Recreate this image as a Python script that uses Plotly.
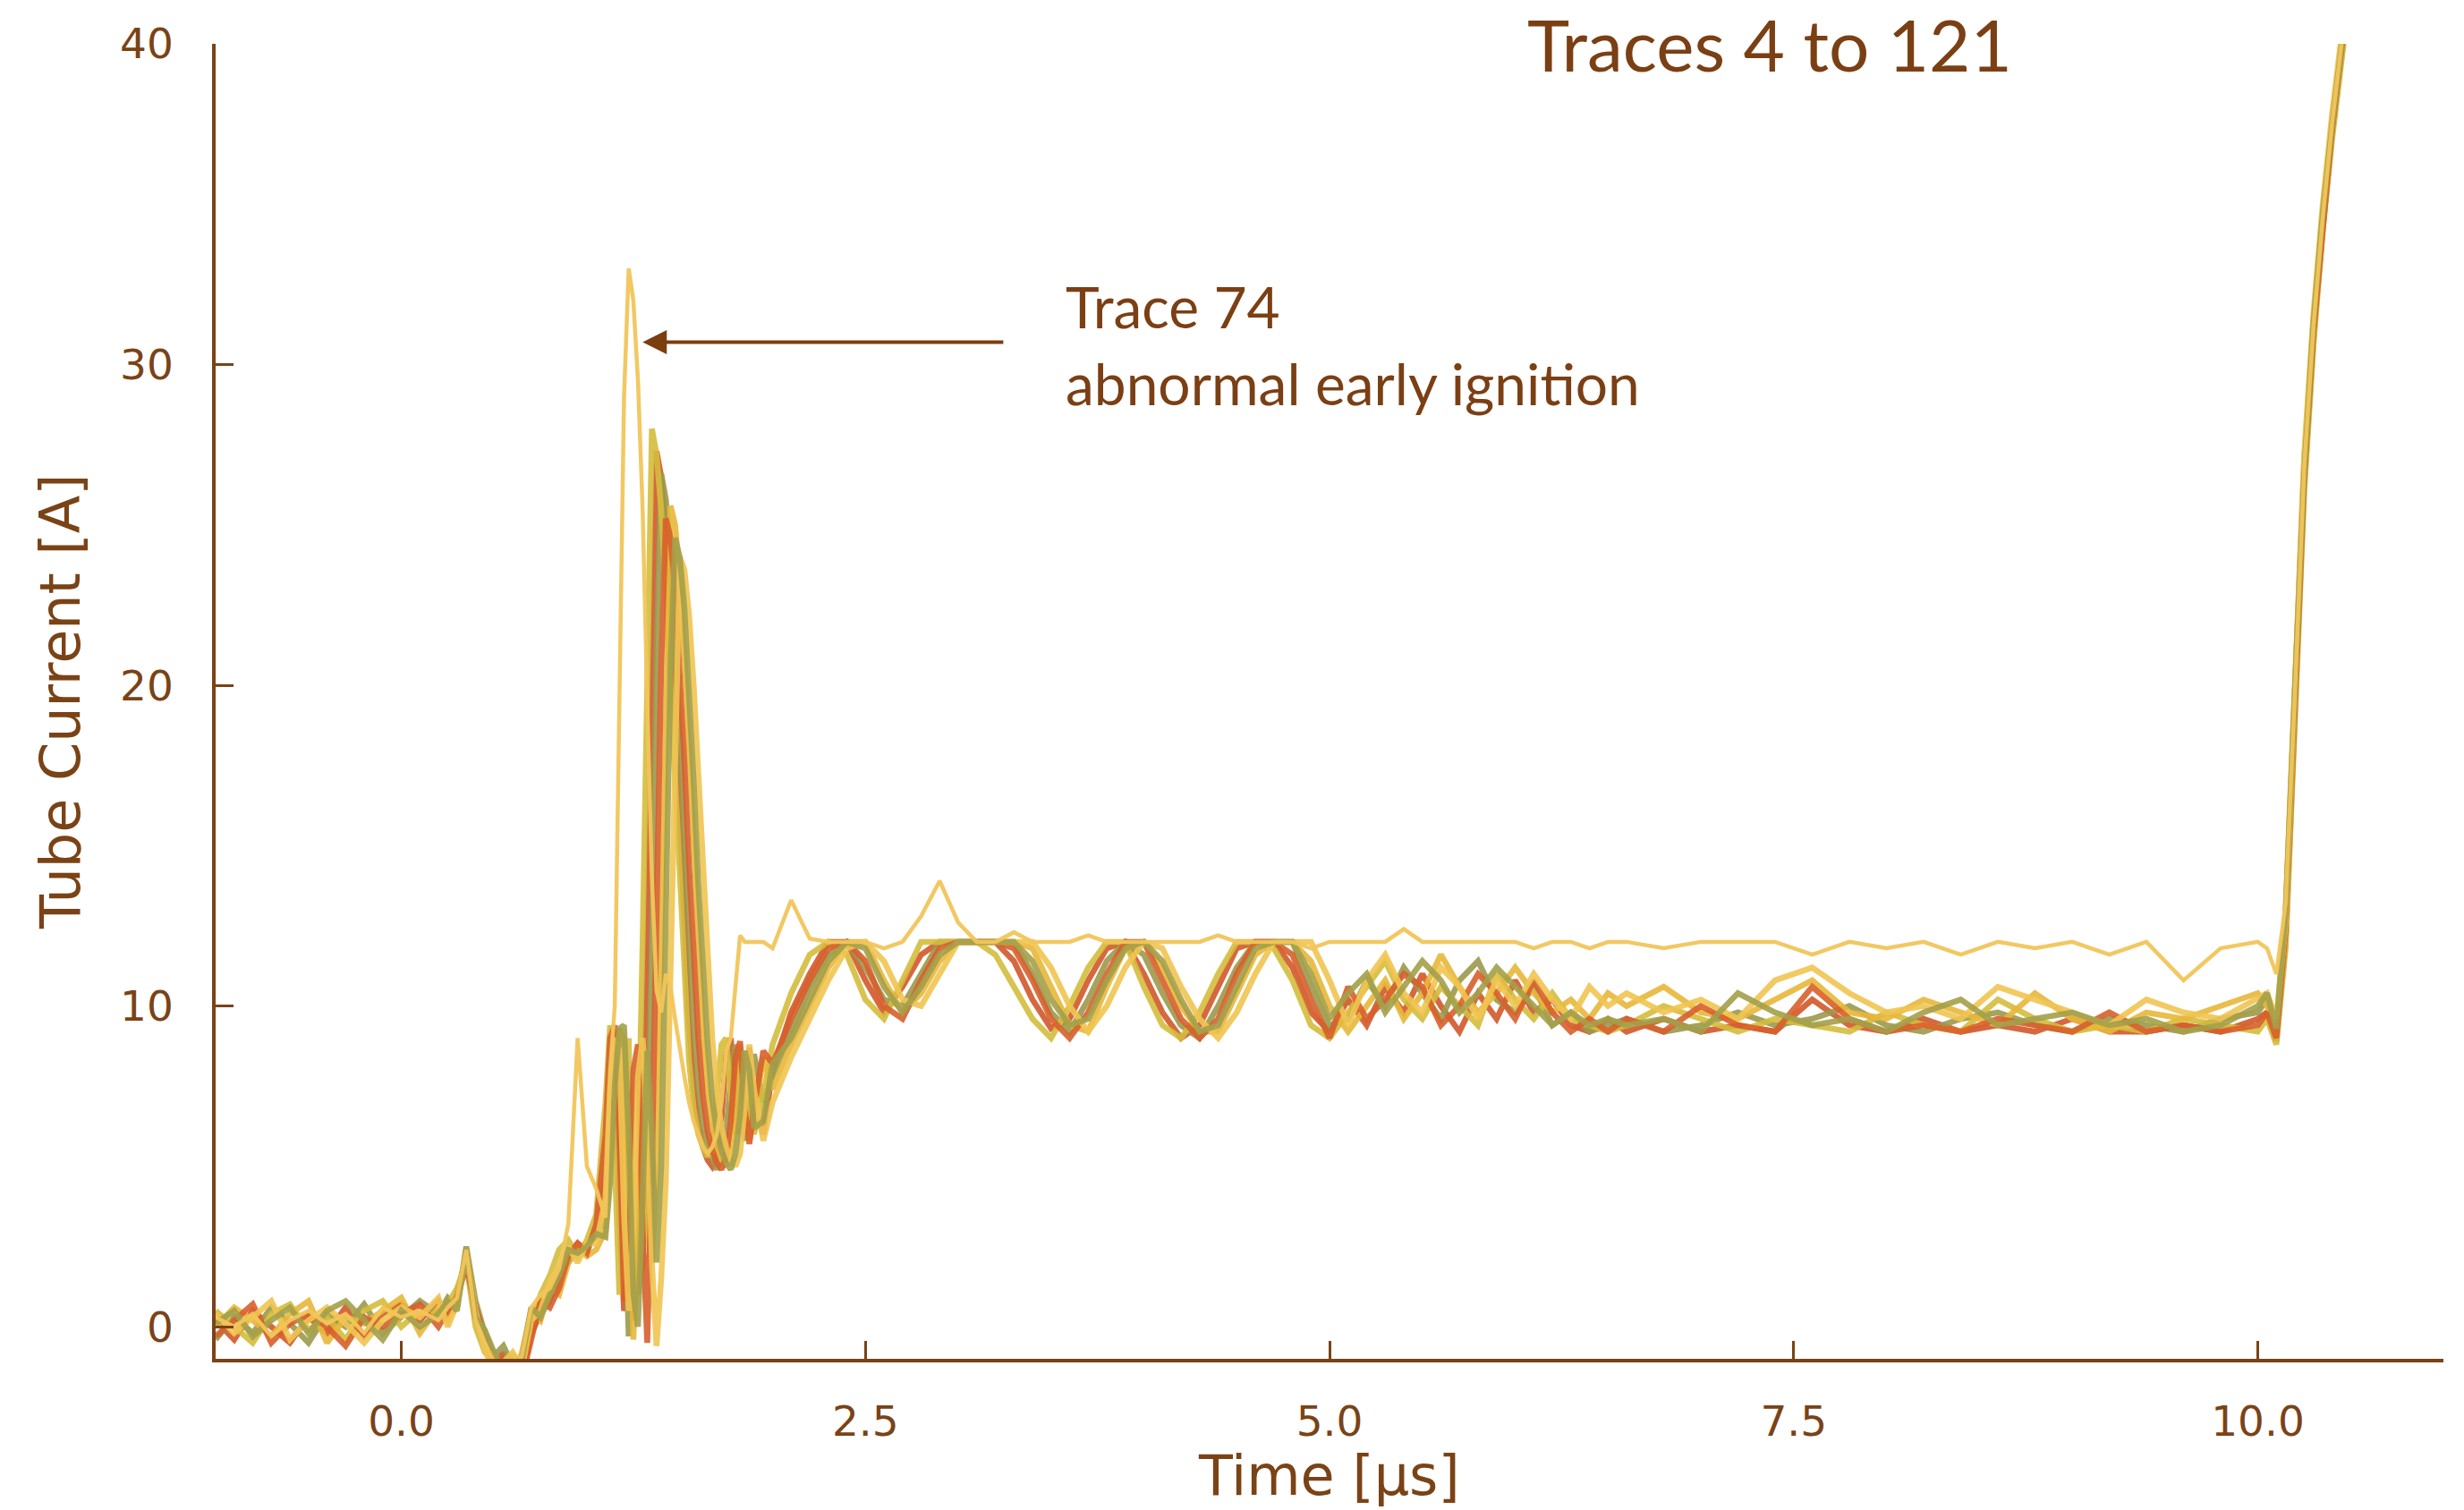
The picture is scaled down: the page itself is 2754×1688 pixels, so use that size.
import plotly.graph_objects as go

# ---- sample times [us] (shared by all traces) ----
t_pre = [-1.0, -0.9, -0.8, -0.7, -0.6, -0.5, -0.4, -0.3, -0.2, -0.1, 0.0, 0.1, 0.2, 0.25, 0.3]
t_early = [0.35, 0.4, 0.45, 0.5, 0.55, 0.6, 0.65, 0.7, 0.75, 0.8, 0.85, 0.9, 0.95, 1.0, 1.05]
t_ign = [1.1, 1.125, 1.15, 1.175, 1.2, 1.225, 1.25, 1.275, 1.3, 1.325, 1.35, 1.375, 1.4,
         1.425, 1.45, 1.475, 1.5, 1.525, 1.55, 1.575, 1.6, 1.625, 1.65, 1.675, 1.7, 1.725,
         1.75, 1.775, 1.8, 1.825, 1.85, 1.875, 1.9, 1.95, 2.0]
t_ring = [2.1, 2.2, 2.3, 2.4, 2.5, 2.6, 2.7, 2.8, 2.9, 3.0, 3.1, 3.2, 3.3, 3.4, 3.5, 3.6, 3.7,
          3.8, 3.9, 4.0, 4.1, 4.2, 4.3, 4.4, 4.5, 4.6, 4.7, 4.8, 4.9, 5.0]
t_noise = [5.1, 5.2, 5.3, 5.4, 5.5, 5.6, 5.7, 5.8, 5.9, 6.0, 6.1, 6.2, 6.3, 6.4, 6.5]
t_flat = [6.6, 6.8, 7.0, 7.2, 7.4, 7.6, 7.8, 8.0, 8.2, 8.4, 8.6, 8.8, 9.0, 9.2, 9.4, 9.6, 9.8, 10.0]
t_end = [10.05, 10.1, 10.15, 10.2, 10.25, 10.3, 10.35, 10.4, 10.45, 10.5]
time_us = t_pre + t_early + t_ign + t_ring + t_noise + t_flat + t_end

# ---- tube current [A] ----
trace_a = [0.2, -0.4, 0.5, 0.0, -0.5, 0.3, -0.2, 0.6, -0.3, 0.4, 0.7, 0.2, 0.8, 0.3, 1.0,
           2.2, 0.4, -0.6, -1.3, -0.8, -1.4, -1.5, -0.2, 0.4, 0.8, 1.5, 2.3, 2.6, 2.4, 3.0,
           5.0, 8.8, 9.2, 3.5, 0.5, 1.0, 0.2, 2.0, 5.0, 12.0, 21.0, 27.3, 26.5, 24.8, 22.3, 19.3,
           15.8, 12.8, 9.5, 7.5, 6.3, 5.6, 5.2, 5.0, 5.3, 6.5, 8.5, 9.0, 7.0, 6.0, 7.5, 8.7, 7.0,
           6.0, 8.0,
           9.8, 11.0, 12.0, 12.0, 10.8, 9.8, 10.6, 11.6, 12.0, 12.0, 12.0, 12.0, 11.4, 10.2, 9.3,
           9.6, 10.8, 11.8, 12.0, 11.0, 9.8, 9.0, 9.4, 10.6, 11.8, 12.0, 12.0, 11.2, 9.8, 9.2,
           10.2, 9.4, 10.6, 9.8, 11.0, 10.0, 9.2, 10.4, 9.6, 10.8, 9.8, 10.2, 9.4, 9.2, 9.6,
           9.2, 9.6, 9.2, 9.4, 9.2, 10.2, 9.4, 9.2, 9.6, 9.2, 9.4, 9.2, 9.6, 9.2, 9.2, 9.4, 9.2, 9.6,
           9.8, 8.9, 12.0, 19.0, 26.3, 30.8, 34.3, 37.2, 39.7, 42.0]
trace_b = [-0.4, 0.3, -0.2, 0.6, 0.1, -0.5, 0.4, 0.0, 0.7, -0.2, 0.3, 0.8, 0.4, 0.9, 0.6,
           2.5, 0.8, -0.2, -0.9, -0.6, -1.2, -1.3, 0.3, 0.6, 1.0, 1.8, 2.0, 2.4, 2.6, 2.8,
           3.5, 6.5, 9.0, 9.3, 4.0, -0.3, 2.5, 1.0, 2.0, 5.0, 12.0, 21.0, 26.6, 25.8, 24.1, 21.6,
           18.6, 15.1, 12.1, 9.5, 7.5, 6.3, 5.6, 5.2, 4.9, 5.4, 6.0, 7.8, 8.8, 6.5, 5.8, 7.0, 8.5,
           7.0, 7.8,
           9.2, 10.6, 11.6, 12.0, 11.2, 10.2, 10.0, 11.0, 12.0, 12.0, 12.0, 12.0, 12.0, 11.0, 9.8,
           9.2, 10.2, 11.4, 12.0, 11.6, 10.4, 9.4, 9.0, 10.0, 11.2, 12.0, 12.0, 12.0, 10.6, 9.4,
           9.6, 10.8, 10.0, 11.2, 10.4, 9.6, 10.8, 11.4, 10.2, 9.8, 10.6, 9.4, 9.8, 9.2, 9.4,
           9.6, 9.2, 9.4, 9.8, 9.4, 9.6, 10.0, 9.4, 9.2, 9.6, 9.8, 9.4, 9.2, 9.6, 9.4, 9.2, 9.6, 9.8,
           10.2, 9.2, 12.8, 19.6, 26.8, 31.2, 34.6, 37.5, 40.0, 42.2]
trace_c = [0.5, 0.0, -0.5, 0.4, 0.7, -0.1, 0.3, -0.4, 0.5, 0.8, 0.0, 0.5, 0.3, 0.7, 1.2,
           2.0, 0.0, -0.8, -1.1, -1.5, -0.9, -1.2, 0.0, 1.0, 1.6, 2.4, 2.7, 2.2, 2.7, 3.5,
           7.0, 9.4, 5.5, 1.0, 3.0, 9.0, 2.0, 5.0, 12.0, 21.0, 28.0, 27.2, 25.5, 23.0, 20.0, 16.5,
           13.5, 10.5, 8.3, 6.8, 6.0, 5.6, 5.3, 5.6, 7.0, 8.8, 9.0, 7.2, 6.0, 6.8, 8.6, 7.6, 6.0,
           7.2, 8.8,
           10.4, 11.6, 12.0, 11.6, 10.2, 9.6, 10.8, 12.0, 12.0, 12.0, 12.0, 11.6, 10.6, 9.6, 9.0,
           10.0, 11.2, 12.0, 12.0, 10.6, 9.4, 9.0, 9.8, 11.0, 12.0, 12.0, 11.8, 10.8, 9.4, 9.0,
           9.8, 10.6, 11.4, 10.2, 9.6, 10.6, 10.0, 9.4, 11.0, 10.2, 9.6, 10.4, 9.6, 9.4, 9.2,
           9.4, 10.0, 9.6, 9.2, 9.6, 9.4, 9.2, 9.8, 9.4, 9.2, 10.2, 9.6, 9.2, 9.4, 9.2, 9.6, 9.4, 9.2,
           9.6, 8.8, 11.8, 18.8, 26.0, 30.6, 34.2, 37.0, 39.6, 41.8]
trace_d = [0.0, 0.6, 0.2, -0.3, 0.4, 0.8, -0.5, 0.3, 0.1, 0.5, 0.9, -0.2, 0.6, 0.2, 0.8,
           2.1, 0.2, -0.4, -1.0, -1.3, -1.6, -0.8, 0.5, 0.2, 1.2, 1.0, 2.0, 2.5, 2.2, 2.4,
           3.0, 5.5, 8.0, 9.2, 9.0, 4.5, -0.4, 3.0, 8.5, 3.0, 2.0, 5.0, 12.0, 20.5, 25.6, 25.0,
           23.4, 21.0, 18.0, 14.8, 11.8, 9.3, 7.4, 6.3, 5.6, 5.2, 5.0, 5.4, 6.8, 8.8, 7.2, 5.8, 6.5,
           8.4, 7.4,
           8.8, 10.0, 11.2, 12.0, 12.0, 10.8, 9.8, 10.4, 11.4, 12.0, 12.0, 12.0, 12.0, 11.8, 10.6,
           9.4, 9.2, 10.6, 11.8, 12.0, 11.2, 10.0, 9.2, 9.2, 10.4, 11.6, 12.0, 12.0, 11.4, 10.0,
           9.2, 10.0, 10.8, 9.6, 10.4, 11.6, 10.6, 9.8, 10.4, 11.2, 10.4, 9.8, 10.2, 9.6, 10.4,
           10.0, 10.6, 9.8, 9.6, 10.2, 10.8, 9.8, 9.6, 10.2, 9.8, 9.4, 10.4, 9.6, 9.2, 9.8, 9.6, 10.0, 10.4,
           10.0, 9.4, 13.0, 20.0, 27.0, 31.4, 34.8, 37.6, 40.1, 42.4]
trace_e = [-0.3, 0.2, 0.7, -0.5, 0.1, 0.4, 0.0, -0.6, 0.3, 0.0, 0.4, 0.7, 0.0, 0.5, 0.9,
           1.9, 0.6, -0.3, -1.2, -1.0, -1.3, -1.6, -0.4, 0.8, 0.6, 1.2, 2.2, 2.6, 2.3, 3.2,
           6.0, 9.0, 9.4, 6.0, 0.8, 1.5, 8.0, 8.8, 3.0, -0.5, 5.0, 12.5, 20.5, 25.2, 24.6, 23.0,
           20.6, 17.6, 14.4, 11.4, 9.0, 7.2, 6.1, 5.5, 5.1, 4.9, 5.3, 6.4, 8.4, 8.9, 6.8, 5.7, 6.8,
           8.6, 8.2,
           9.6, 10.8, 11.8, 12.0, 11.4, 10.0, 9.6, 10.8, 11.8, 12.0, 12.0, 12.0, 11.8, 10.8, 9.6,
           9.0, 9.8, 11.0, 12.0, 12.0, 10.8, 9.6, 9.0, 9.6, 11.0, 12.0, 12.0, 11.6, 10.2, 9.0,
           10.6, 9.6, 10.2, 11.0, 10.6, 9.4, 10.0, 11.0, 10.4, 9.6, 10.8, 9.8, 9.2, 9.6, 9.2,
           9.6, 9.2, 10.0, 9.4, 9.2, 10.6, 9.6, 9.2, 9.4, 9.2, 9.6, 9.4, 9.2, 9.8, 9.2, 9.4, 9.2, 9.4,
           9.8, 9.0, 12.4, 19.3, 26.5, 31.0, 34.4, 37.3, 39.8, 42.1]
trace_f = [0.4, -0.2, 0.3, 0.8, -0.4, 0.2, 0.6, 0.1, -0.5, 0.2, 0.6, 0.3, 0.9, 0.0, 0.7,
           2.3, 0.5, -0.7, -1.4, -1.1, -0.8, -1.3, 0.2, 0.5, 1.4, 1.9, 2.5, 2.0, 2.6, 2.6,
           4.0, 7.5, 9.0, 8.6, 3.5, 0.5, 3.0, 7.8, 9.0, 7.0, 2.0, -0.6, 1.5, 4.5, 11.0, 19.0,
           24.0, 23.6, 22.2, 20.0, 17.2, 14.2, 11.4, 9.0, 7.3, 6.2, 5.6, 5.2, 5.0, 5.4, 6.8, 8.8, 7.4,
           5.8, 7.0,
           8.4, 9.6, 10.8, 11.8, 12.0, 11.4, 10.2, 10.0, 11.0, 12.0, 12.0, 12.0, 12.0, 12.0, 11.2,
           10.0, 9.2, 10.0, 11.2, 12.0, 11.8, 10.6, 9.6, 9.0, 9.8, 11.0, 12.0, 12.0, 12.0, 10.8,
           9.4, 10.8, 11.6, 10.4, 9.8, 11.2, 10.6, 9.6, 10.8, 10.0, 11.0, 10.2, 9.6, 10.6, 10.0,
           10.4, 9.8, 10.2, 9.6, 10.8, 11.2, 10.4, 9.8, 10.0, 9.6, 10.6, 10.2, 9.8, 9.4, 10.2, 9.8, 9.6, 10.2,
           10.4, 9.6, 12.6, 19.8, 27.2, 31.6, 35.0, 37.8, 40.3, 42.6]
trace_g = [0.1, 0.5, -0.3, 0.2, 0.6, -0.2, 0.5, 0.8, 0.2, -0.4, 0.5, 0.0, 0.4, 0.8, 0.5,
           2.4, 0.3, -0.1, -0.8, -1.4, -1.2, -1.0, 0.6, 0.3, 1.0, 1.6, 2.4, 2.3, 2.5, 2.9,
           2.8, 4.5, 7.5, 9.3, 9.4, 6.0, 1.0, 0.0, 4.0, 8.6, 6.0, 2.0, 5.0, 12.0, 20.5, 24.6,
           24.0, 22.4, 20.0, 17.0, 13.8, 11.0, 8.8, 7.1, 6.1, 5.5, 5.1, 4.9, 5.4, 6.6, 8.6, 8.0, 6.2,
           6.4, 8.2,
           9.0, 10.2, 11.4, 12.0, 11.8, 10.6, 9.8, 10.6, 11.6, 12.0, 12.0, 12.0, 12.0, 11.4, 10.2,
           9.4, 9.6, 10.8, 11.8, 12.0, 11.4, 10.2, 9.2, 9.4, 10.6, 11.8, 12.0, 12.0, 11.0, 9.6,
           10.4, 11.0, 9.8, 10.6, 11.4, 10.8, 9.8, 10.4, 11.2, 10.6, 10.0, 9.4, 9.8, 9.4, 9.6,
           9.4, 9.6, 9.2, 10.4, 9.8, 9.4, 9.6, 9.2, 9.8, 10.2, 9.4, 9.6, 9.8, 9.4, 9.6, 9.2, 9.4, 10.0,
           10.4, 9.3, 12.9, 19.9, 26.6, 31.3, 34.7, 37.4, 40.0, 42.3]
trace_74 = [0.3, 0.0, 0.4, -0.3, 0.2, 0.5, 0.1, 0.4, -0.2, 0.6, 0.3, 0.5, 0.2, 0.6, 0.9,
            2.4, 0.2, -0.5, -1.1, -1.2, -1.4, -0.9, 0.6, 1.0, 1.2, 1.8, 3.2, 9.0, 5.0, 4.3,
            3.4, 8.0, 10.0, 20.0, 29.0, 33.0, 32.0, 29.5, 25.5, 19.5, 14.0, 10.5, 9.8, 11.0, 10.6,
            9.6, 8.6, 7.8, 7.0, 6.4, 6.0, 5.6, 5.4, 5.6, 6.0, 7.0, 8.6, 9.0, 10.6, 12.2, 12.0,
            12.0, 12.0, 12.0, 11.8,
            13.3, 12.1, 12.0, 12.0, 12.0, 11.8, 12.0, 12.8, 13.9, 12.6, 12.0, 12.0, 12.3, 12.0,
            12.0, 12.0, 12.2, 12.0, 12.0, 12.0, 12.0, 12.0, 12.0, 12.2, 12.0, 12.0, 12.0, 12.0,
            11.8, 12.0,
            12.0, 12.0, 12.0, 12.4, 12.0, 12.0, 12.0, 12.0, 12.0, 12.0, 11.8, 12.0, 12.0, 11.8, 12.0,
            12.0, 11.8, 12.0, 12.0, 12.0, 11.6, 12.0, 11.8, 12.0, 11.6, 12.0, 11.8, 12.0, 11.6,
            12.0, 10.8, 11.8, 12.0,
            11.8, 11.0, 13.2, 19.8, 26.8, 31.2, 34.6, 37.5, 40.0, 42.4]

bundle = [trace_a, trace_b, trace_c, trace_d, trace_e, trace_f, trace_g]
bundle_colors = ["#d2582b", "#9c9a4c", "#d4bd3d", "#e8b83a", "#d9602c", "#f1c552", "#a4a04a"]
trace74_color = "#f2c65a"

x_ticks = [0.0, 2.5, 5.0, 7.5, 10.0]
x_tick_labels = ["0.0", "2.5", "5.0", "7.5", "10.0"]
y_ticks = [0, 10, 20, 30, 40]
y_tick_labels = ["0", "10", "20", "30", "40"]

BROWN = "#7a4316"
TXT = "#7b3f14"

fig = go.Figure()
for ys, col in zip(bundle, bundle_colors):
    assert len(ys) == len(time_us)
    fig.add_trace(go.Scatter(x=time_us, y=ys, mode="lines",
                             line=dict(color=col, width=6.5), opacity=0.9,
                             showlegend=False, hoverinfo="skip"))
assert len(trace_74) == len(time_us)
fig.add_trace(go.Scatter(x=time_us, y=trace_74, mode="lines",
                         line=dict(color=trace74_color, width=4.5), opacity=0.95,
                         showlegend=False, name="Trace 74"))

axis_common = dict(showgrid=False, zeroline=False, showline=True, linecolor=BROWN,
                   linewidth=3.5, ticks="inside", ticklen=20, tickwidth=2.5,
                   tickcolor=BROWN, tickfont=dict(family="DejaVu Sans", size=47, color=BROWN))

fig.update_layout(
    width=2754, height=1688,
    margin=dict(l=241, r=23, t=49, b=169),
    paper_bgcolor="white", plot_bgcolor="white",
    xaxis=dict(range=[-1, 11], tickvals=x_ticks, ticktext=x_tick_labels,
               ticklabelstandoff=26, **axis_common),
    yaxis=dict(range=[-1, 40], tickvals=y_ticks, ticktext=y_tick_labels,
               ticklabelstandoff=34, **axis_common),
    annotations=[
        dict(text="Time [μs]", xref="paper", yref="paper", x=0.4996, y=-0.089,
             xanchor="center", yanchor="middle", showarrow=False,
             font=dict(family="DejaVu Sans", size=62, color=BROWN)),
        dict(text="Tube Current [A]", xref="paper", yref="paper", x=-0.0699, y=0.5,
             xanchor="center", yanchor="middle", textangle=-90, showarrow=False,
             font=dict(family="DejaVu Sans", size=62, color=BROWN)),
        dict(text="Traces 4 to 121", xref="paper", yref="paper", x=0.6976, y=1.0,
             xanchor="center", yanchor="middle", showarrow=False,
             font=dict(family="Lato", size=80, color=TXT)),
        dict(text="Trace 74", xref="paper", yref="paper", x=0.3807, y=0.800,
             xanchor="left", yanchor="middle", showarrow=False,
             font=dict(family="Lato", size=64, color=TXT)),
        dict(text="abnormal early ignition", xref="paper", yref="paper", x=0.3807, y=0.742,
             xanchor="left", yanchor="middle", showarrow=False,
             font=dict(family="Lato", size=64, color=TXT)),
        dict(x=1.30, y=30.7, ax=3.25, ay=30.7, xref="x", yref="y", axref="x", ayref="y",
             text="", showarrow=True, arrowhead=2, arrowsize=1.35, arrowwidth=4,
             arrowcolor="#7a3e0f"),
    ],
)

fig.write_html("out.html")
